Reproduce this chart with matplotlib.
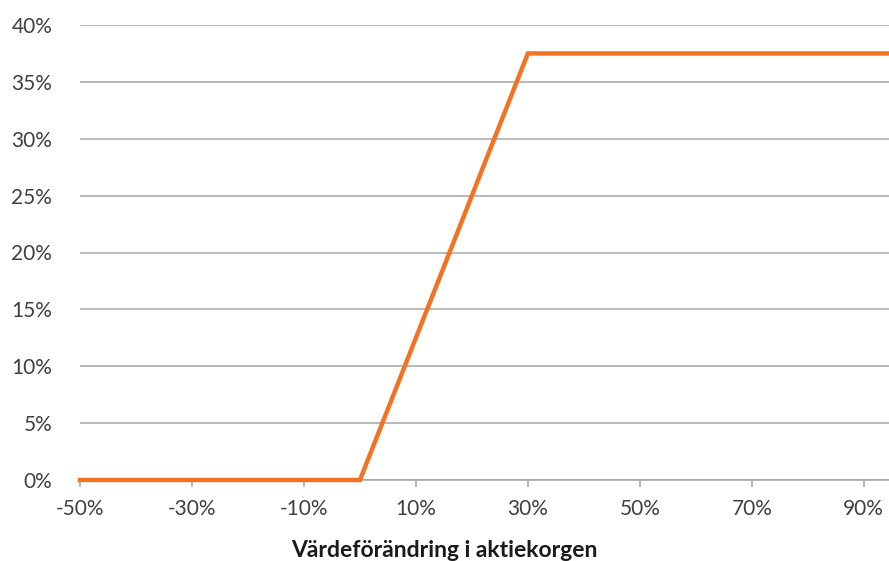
import matplotlib.pyplot as plt
from matplotlib.ticker import FuncFormatter

# payoff curve: change in the basket (%) vs return (%)
basket_change = [-50, 0, 30, 95]
payoff = [0, 0, 37.5, 37.5]

x_ticks = [-50, -30, -10, 10, 30, 50, 70, 90]
y_ticks = [0, 5, 10, 15, 20, 25, 30, 35, 40]

plt.rcParams['font.family'] = ['Lato', 'DejaVu Sans']

fig = plt.figure(figsize=(8.89, 5.61), dpi=100)
ax = fig.add_axes([80 / 889, 81 / 561, 809 / 889, 455 / 561])

ax.plot(basket_change, payoff, color='#f47323', linewidth=3.2,
        solid_joinstyle='miter', zorder=3, clip_on=False)

ax.set_xlim(-50, 94.5)
ax.set_ylim(0, 40)
ax.set_xticks(x_ticks)
ax.set_yticks(y_ticks)
pct = FuncFormatter(lambda v, p: f'{v:.0f}%')
ax.xaxis.set_major_formatter(pct)
ax.yaxis.set_major_formatter(pct)

ax.grid(axis='y', color='#a6a6a6', linewidth=1.1)
ax.set_axisbelow(True)
for s in ['top', 'right', 'left']:
    ax.spines[s].set_visible(False)
ax.spines['bottom'].set_color('#a6a6a6')
ax.spines['bottom'].set_linewidth(1.1)

ax.tick_params(axis='y', length=0, pad=20, labelsize=15, labelcolor='#404040')
ax.tick_params(axis='x', length=5, width=1.1, color='#a6a6a6', pad=9,
               labelsize=15, labelcolor='#404040')

# label sits centred under the whole figure, not the axes
ax.set_xlabel('Värdeförändring i aktiekorgen', fontsize=16.5,
              fontweight='bold', color='#1a1a1a', labelpad=15,
              x=(444 - 80) / 809)

fig.savefig('out.png', dpi=100)
